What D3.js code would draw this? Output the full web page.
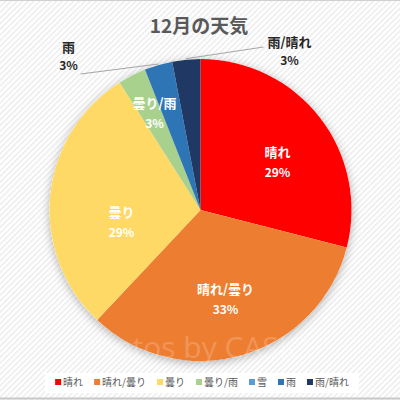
<!DOCTYPE html>
<html>
<head>
<meta charset="utf-8">
<script src="https://cdn.jsdelivr.net/npm/d3@7"></script>
<style>
  body { margin: 0; }
  svg { display: block; font-family: "Noto Sans CJK JP", "Noto Sans", sans-serif; }
</style>
</head>
<body>
<div id="chart"></div>
<script>
// data
const categories = ["晴れ", "晴れ/曇り", "曇り", "曇り/雨", "雪", "雨", "雨/晴れ"];
const values = [29, 33, 29, 3, 0, 3, 3];
const colors = ["#FF0000", "#ED7D31", "#FFD966", "#A9D18E", "#5B9BD5", "#2E75B6", "#203864"];
const title = "12月の天気";

const W = 400, H = 400;
const cx = 200.5, cy = 210, R = 151;

const svg = d3.select("#chart").append("svg").attr("width", W).attr("height", H);
const defs = svg.append("defs");

// striped background
const pat = defs.append("pattern").attr("id", "stripes")
  .attr("width", 4).attr("height", 4)
  .attr("patternUnits", "userSpaceOnUse")
  .attr("patternTransform", "rotate(45)");
pat.append("rect").attr("width", 4).attr("height", 4).attr("fill", "#ffffff");
pat.append("rect").attr("width", 1.5).attr("height", 4).attr("fill", "#ececec");

const shadow = defs.append("filter").attr("id", "shadow")
  .attr("x", "-20%").attr("y", "-20%").attr("width", "140%").attr("height", "140%");
shadow.append("feDropShadow").attr("dx", 0).attr("dy", 2).attr("stdDeviation", 5)
  .attr("flood-color", "#000").attr("flood-opacity", 0.3);

svg.append("rect").attr("width", W).attr("height", H).attr("fill", "url(#stripes)");
svg.append("line").attr("x1", 0).attr("x2", W).attr("y1", 0.5).attr("y2", 0.5).attr("stroke", "#d0d0d0");
svg.append("line").attr("x1", 0).attr("x2", W).attr("y1", 398.5).attr("y2", 398.5).attr("stroke", "#c8c8c8").attr("stroke-width", 2);

// title
svg.append("text").attr("x", 199).attr("y", 33).attr("text-anchor", "middle")
  .attr("font-size", 19).attr("font-weight", "bold").attr("fill", "#595959")
  .text(title);

// pie
const pie = d3.pie().sort(null).value(d => d.v);
const data = pie(categories.map((c, i) => ({ c, v: values[i], color: colors[i] })));
const arc = d3.arc().innerRadius(0).outerRadius(R);
const total = d3.sum(values);
const pct = d => Math.round(d.data.v / total * 100) + "%";

const g = svg.append("g").attr("transform", `translate(${cx},${cy})`);
g.append("circle").attr("r", R).attr("fill", "#fff").attr("filter", "url(#shadow)");
g.selectAll("path.slice").data(data.filter(d => d.data.v > 0)).enter()
  .append("path").classed("slice", true)
  .attr("d", arc)
  .attr("fill", d => d.data.color);

// watermark
svg.append("text").attr("x", 78).attr("y", 358)
  .attr("font-size", 30).attr("font-family", "Open Sans, sans-serif")
  .attr("fill", "#fff").attr("fill-opacity", 0.2)
  .text("Photos by CASIO");

// labels inside slices (offsets from pie centre)
const inner = { "晴れ": [77, -53], "晴れ/曇り": [25, 84], "曇り": [-79, 7], "曇り/雨": [-46, -102] };
data.filter(d => inner[d.data.c]).forEach(d => {
  const [x, y] = inner[d.data.c];
  const t = g.append("text").attr("text-anchor", "middle").attr("fill", "#fff")
    .attr("font-weight", "bold").attr("font-size", 13);
  t.append("tspan").attr("x", x).attr("y", y).text(d.data.c);
  t.append("tspan").attr("x", x).attr("y", y + 20).attr("font-size", 12).text(pct(d));
});

// outside labels with leader lines
const outer = { "雨": [-132, -158], "雨/晴れ": [89, -163] };
data.filter(d => outer[d.data.c]).forEach(d => {
  const [x, y] = outer[d.data.c];
  const a = (d.startAngle + d.endAngle) / 2;
  const px = Math.sin(a) * (R + 1), py = -Math.cos(a) * (R + 1);
  const lx = d.data.c === "雨" ? x + 12 : x - 26;
  const ly = d.data.c === "雨" ? y + 22 : y;
  g.append("line").attr("x1", lx).attr("y1", ly).attr("x2", px).attr("y2", py)
    .attr("stroke", "#a6a6a6").attr("stroke-width", 1);
  const t = g.append("text").attr("text-anchor", "middle").attr("fill", "#262626")
    .attr("font-weight", "bold").attr("font-size", 13);
  t.append("tspan").attr("x", x).attr("y", y).text(d.data.c);
  t.append("tspan").attr("x", x).attr("y", y + 18).attr("font-size", 12).text(pct(d));
});

// legend
const lg = svg.append("g");
const lbg = lg.append("rect").attr("fill", "#fff");
let lx = 0;
const gap = 11;
const items = lg.selectAll("g.item").data(categories).enter().append("g").classed("item", true);
items.append("rect").attr("width", 6).attr("height", 6).attr("y", -6)
  .attr("fill", (d, i) => colors[i]);
items.append("text").attr("x", 8).attr("y", 0.5).attr("font-size", 10).attr("fill", "#595959").text(d => d);
items.each(function () {
  d3.select(this).attr("transform", `translate(${lx},0)`);
  lx += this.getBBox().width + gap;
});
lx -= gap;
const x0 = 202 - lx / 2;
lg.attr("transform", `translate(${x0},385)`);
lbg.attr("x", -10).attr("y", -12).attr("width", lx + 20).attr("height", 20);
</script>
</body>
</html>
